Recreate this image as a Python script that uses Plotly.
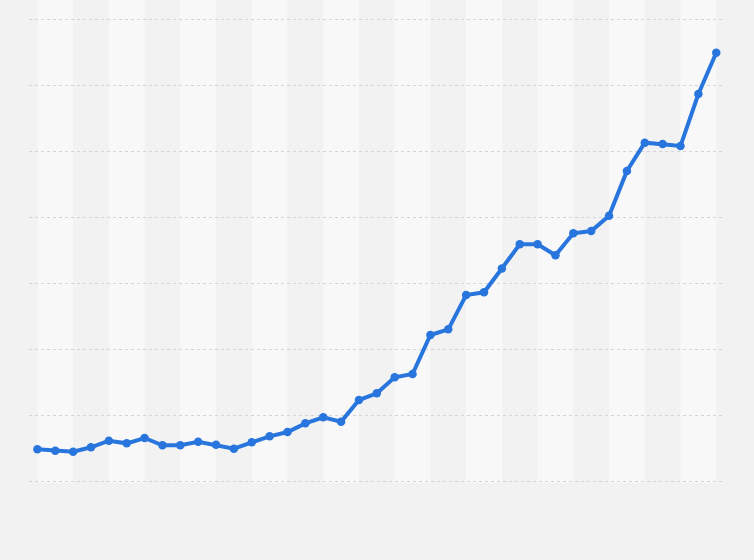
import plotly.graph_objects as go

# yearly series (gridlines every 10 units)
years = list(range(1980, 2019))
values = [4.81, 4.60, 4.45, 5.12, 6.12, 5.72, 6.53, 5.42, 5.42, 5.97,
          5.51, 4.90, 5.88, 6.79, 7.44, 8.76, 9.67, 9.00, 12.30, 13.32,
          15.75, 16.25, 22.17, 23.03, 28.24, 28.65, 32.27, 35.94, 35.94, 34.27,
          37.61, 37.96, 40.28, 47.07, 51.37, 51.17, 50.87, 58.76, 65.03]

fig = go.Figure()
fig.add_trace(go.Scatter(
    x=years, y=values, mode="lines+markers",
    line=dict(color="#2876dd", width=4),
    marker=dict(color="#2876dd", size=8.5),
    hovertemplate="%{x}: %{y}<extra></extra>",
))

# lighter vertical bands, two years wide, every four years
for i in range(0, len(years) - 1, 4):
    fig.add_vrect(x0=years[i], x1=years[i + 2], y0=0, y1=70, yref="y",
                  fillcolor="#f8f8f8", line_width=0, layer="below")

fig.update_layout(
    width=754, height=560,
    margin=dict(l=29, r=29, t=18, b=77),
    paper_bgcolor="#f2f2f2", plot_bgcolor="#f2f2f2",
    showlegend=False,
)
fig.update_xaxes(range=[years[0] - 0.47, years[-1] + 0.49], showgrid=False,
                 showticklabels=False, zeroline=False, ticks="")
# small padding so the 0 and 70 gridlines are still drawn
fig.update_yaxes(range=[-0.3, 70.3], dtick=10, showgrid=True, gridcolor="#d4d4d4",
                 griddash="dot", gridwidth=1, showticklabels=False,
                 zeroline=False, ticks="")

fig.write_html("out.html", config={"displayModeBar": False},
               post_script="document.body.style.margin='0';")
